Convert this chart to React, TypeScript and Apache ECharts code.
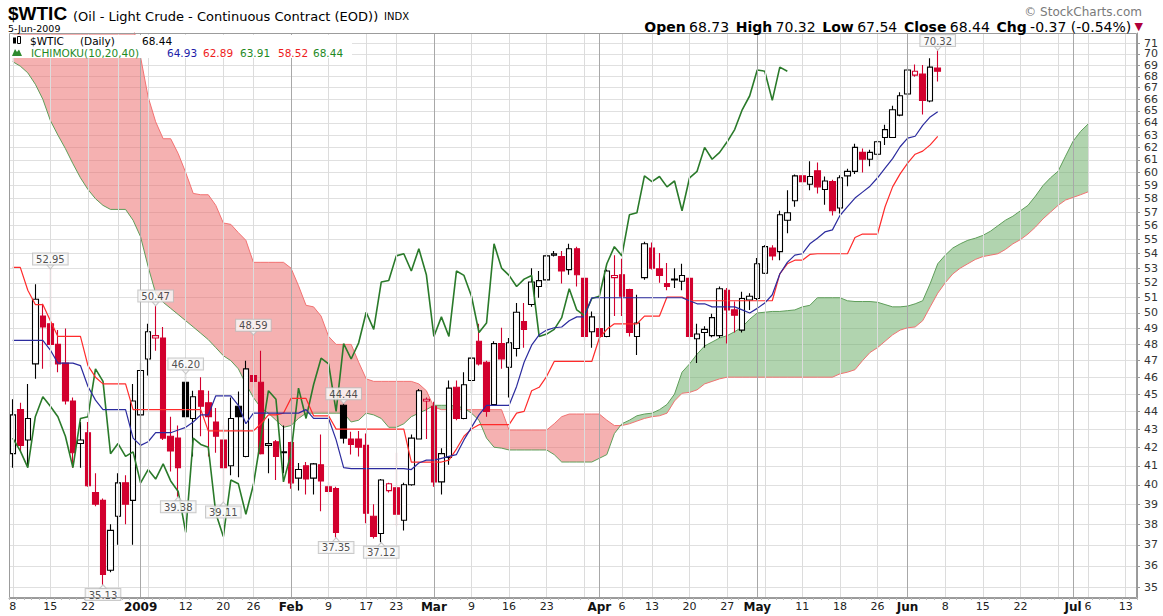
import React, { useEffect, useRef } from 'react';
import * as echarts from 'echarts';

// ---------- categories (trading days) ----------
const START_DATE = '2008-12-08';
const N_DAYS = 150;
const HOLIDAYS = ['2008-12-25', '2009-01-01', '2009-01-19', '2009-02-16', '2009-04-10', '2009-05-25', '2009-07-03'];

function buildDates(): string[] {
  const out: string[] = [];
  const d = new Date(START_DATE + 'T00:00:00Z');
  while (out.length < N_DAYS) {
    const wd = d.getUTCDay();
    const s = d.toISOString().slice(0, 10);
    if (wd !== 0 && wd !== 6 && HOLIDAYS.indexOf(s) < 0) out.push(s);
    d.setUTCDate(d.getUTCDate() + 1);
  }
  return out;
}
const DATES = buildDates();

// ---------- price data ----------
const OPEN = [
  41.65, 44.1, 42.4, 46.8, 49.8, 49.3, 48.0, 46.85, 44.6, 42.2,
  42.8, 39.6, 39.2, 35.8, 38.4, 40.1, 39.2, 43.8, 47.1, 48.4,
  48.4, 42.6, 42.5, 45.7, 43.6, 45.2, 44.5, 43.4, 42.4, 41.0,
  44.3, 41.5, 46.1, 45.7, 42.1, 42.3, 41.7, 42.25, 40.35, 41.0,
  40.35, 41.05, 39.9, 39.8, 44.35, 42.45, 42.45, 42.1, 38.4, 37.55,
  39.7, 39.85, 38.2, 40.0, 42.45, 44.6, 44.3, 40.15, 41.45, 45.4,
  43.6, 45.8, 48.2, 46.9, 44.4, 48.05, 46.6, 47.75, 49.45, 50.55,
  51.75, 52.2, 53.9, 53.8, 52.9, 54.35, 52.3, 48.8, 49.0, 48.5,
  52.35, 52.55, 51.55, 48.5, 52.35, 54.4, 52.95, 51.95, 52.2, 52.1,
  52.3, 48.35, 48.75, 48.55, 48.55, 51.5, 50.2, 48.9, 50.85, 50.95,
  52.65, 54.4, 54.15, 56.4, 57.85, 59.75, 59.1, 60.15, 58.7, 59.3,
  57.3, 59.75, 60.1, 61.6, 61.05, 61.45, 62.8, 62.8, 64.65, 66.45,
  68.1, 68.2, 65.85, 68.73
];
const HIGH = [
  44.7, 44.5, 45.6, 51.9, 50.6, 52.95, 48.9, 49.0, 44.8, 43.4,
  43.4, 40.6, 39.3, 38.0, 40.6, 40.5, 45.6, 46.85, 49.3, 50.47,
  49.1, 43.7, 43.2, 46.2, 45.2, 46.0, 45.2, 44.2, 43.2, 44.8,
  45.15, 47.0, 48.59, 47.6, 43.6, 42.4, 43.2, 42.3, 41.15, 41.2,
  41.15, 42.7, 40.15, 39.9, 44.44, 42.85, 42.9, 42.75, 39.0, 40.3,
  40.1, 41.7, 40.1, 42.7, 45.3, 44.8, 44.55, 41.95, 45.8, 45.8,
  46.3, 48.9, 49.3, 47.0, 48.2, 49.05, 48.4, 50.65, 50.65, 53.0,
  52.8, 54.1, 54.2, 54.2, 54.7, 54.5, 52.4, 50.1, 49.8, 52.9,
  53.9, 53.65, 51.6, 51.2, 54.85, 54.8, 54.05, 53.35, 53.0, 53.3,
  52.4, 49.3, 49.15, 49.95, 51.75, 51.65, 50.75, 51.4, 51.3, 53.7,
  54.6, 54.6, 57.1, 58.65, 59.85, 59.8, 60.9, 60.8, 59.7, 59.45,
  59.8, 60.3, 62.3, 61.9, 61.8, 62.6, 63.85, 65.45, 66.6, 68.7,
  69.05, 69.0, 69.6, 70.32
];
const LOW = [
  40.9, 41.8, 40.95, 45.9, 46.5, 46.6, 46.3, 44.4, 40.9, 40.9,
  39.9, 38.9, 35.13, 35.7, 37.0, 38.0, 37.0, 41.1, 46.1, 47.6,
  42.4, 40.7, 39.38, 43.2, 41.5, 42.6, 41.5, 41.7, 39.11, 40.5,
  40.4, 41.45, 45.4, 41.6, 40.6, 40.25, 40.6, 39.8, 39.7, 39.5,
  39.5, 38.65, 39.5, 37.35, 42.2, 41.6, 41.5, 38.05, 37.3, 37.12,
  39.6, 37.9, 37.7, 39.95, 42.45, 42.45, 39.9, 39.5, 41.05, 43.5,
  43.55, 45.05, 46.7, 43.7, 44.35, 46.5, 44.8, 47.25, 47.8, 50.4,
  51.0, 51.65, 53.8, 51.95, 52.55, 51.75, 48.25, 47.8, 47.3, 48.45,
  49.8, 49.8, 48.5, 47.35, 52.2, 52.9, 52.0, 51.5, 51.65, 51.5,
  48.25, 46.85, 47.8, 48.45, 48.4, 48.05, 48.75, 48.75, 50.2, 50.85,
  52.6, 53.55, 53.55, 55.45, 57.4, 57.85, 58.65, 58.4, 57.55, 56.75,
  56.9, 58.95, 59.9, 60.0, 60.5, 59.6, 62.2, 62.75, 64.55, 66.1,
  67.95, 64.7, 65.75, 67.54
];
const CLOSE = [
  43.8, 42.1, 43.6, 50.9, 49.1, 48.0, 46.8, 44.6, 41.7, 42.4,
  39.95, 39.0, 35.6, 37.7, 40.1, 39.0, 44.6, 46.4, 48.8, 48.55,
  42.5, 41.8, 40.9, 43.7, 44.85, 44.3, 43.7, 42.6, 40.9, 43.6,
  43.7, 46.5, 45.75, 41.65, 42.2, 41.5, 41.75, 40.1, 40.8, 40.3,
  41.1, 40.2, 39.65, 37.6, 42.5, 42.15, 42.0, 38.55, 37.4, 40.25,
  40.05, 38.5, 40.0, 42.5, 45.2, 44.7, 40.15, 41.65, 45.35, 43.6,
  45.55, 47.15, 46.8, 44.0, 48.05, 47.1, 48.1, 50.05, 48.95, 52.05,
  52.15, 53.85, 54.0, 52.8, 54.35, 52.55, 48.5, 49.75, 48.5, 52.8,
  52.5, 51.1, 48.75, 49.35, 54.7, 53.0, 52.5, 51.75, 52.25, 52.5,
  48.5, 48.65, 48.95, 49.7, 51.6, 50.2, 49.85, 50.95, 51.1, 53.3,
  54.5, 53.85, 56.8, 56.95, 59.75, 59.3, 59.7, 58.9, 59.35, 57.1,
  59.6, 60.1, 62.0, 61.05, 61.6, 62.45, 63.45, 65.1, 66.3, 68.55,
  68.45, 65.9, 68.81, 68.44
];

// Ichimoku lines
const TENKAN = [
  48.25, 48.25, 48.25, 48.25, 48.25, 47.65, 46.85, 46.85, 46.85, 46.7,
  45.45, 44.65, 44.1, 44.1, 44.1, 44.1, 42.5, 42.1, 42.3, 42.8,
  42.8, 42.8, 42.95, 43.1, 43.4, 43.8, 43.8, 44.9, 44.9, 44.9,
  44.35, 43.3, 43.9, 43.9, 43.9, 43.9, 43.9, 43.9, 43.9, 44.1,
  43.6, 43.6, 43.6, 42.4, 40.9, 40.85, 40.85, 40.85, 40.85, 40.85,
  40.85, 40.85, 40.85, 40.8, 41.15, 41.3, 41.3, 41.4, 41.5, 41.6,
  42.4, 43.1, 43.8, 44.35, 44.35, 44.35, 44.35, 45.45, 46.9, 47.95,
  48.6, 48.9, 49.05, 49.1, 49.5, 49.75, 49.75, 51.0, 51.0, 51.0,
  51.0, 51.0, 51.0, 51.0, 51.0, 51.0, 51.0, 51.0, 51.0, 51.0,
  50.8, 50.6, 50.6, 50.4, 50.4, 50.4, 50.4, 50.2, 50.0, 50.3,
  50.65, 51.2, 52.6, 53.4, 53.9, 54.0, 54.7, 55.1, 55.55, 55.7,
  56.75, 57.4, 58.05, 58.5, 58.95, 59.6, 60.35, 61.1, 62.05, 62.75,
  62.9, 63.8, 64.5, 64.93
];
const KIJUN = [
  53.05, 53.05, 51.5, 50.55, 50.55, 49.5, 48.5, 48.5, 48.5, 48.5,
  46.7, 46.0, 45.6, 45.6, 45.6, 45.6, 44.1, 44.1, 44.1, 44.1,
  44.1, 44.1, 44.1, 44.1, 44.1, 44.1, 42.9, 42.9, 42.9, 42.9,
  42.9, 42.9, 42.9, 43.3, 43.8, 43.8, 43.9, 44.75, 44.75, 44.75,
  43.75, 43.75, 43.75, 43.0, 43.0, 43.0, 43.0, 43.0, 43.0, 43.0,
  43.0, 43.0, 43.0, 41.2, 41.2, 41.2, 41.2, 41.2, 41.3, 41.9,
  42.6, 43.0, 43.25, 43.25, 43.25, 43.25, 43.25, 43.9, 44.0, 45.2,
  45.4, 46.05, 46.95, 46.95, 46.95, 46.95, 46.95, 46.95, 48.4, 48.95,
  49.3, 49.3, 49.3, 49.3, 49.8, 49.8, 49.8, 51.05, 51.05, 51.05,
  50.8, 50.8, 50.8, 50.8, 50.8, 50.8, 50.8, 50.8, 50.8, 50.8,
  50.8, 50.8, 52.6, 53.3, 53.55, 53.55, 53.95, 54.0, 54.0, 54.0,
  54.0, 54.0, 55.15, 55.4, 55.4, 55.4, 57.4, 58.9, 59.9, 60.75,
  61.45, 61.7, 62.2, 62.89
];
const SPAN_A = [
  69.3, 68.9, 68.3, 67.3, 66.0, 64.2, 63.0, 61.9, 60.7, 59.6,
  58.7, 58.0, 57.5, 57.2, 57.2, 57.2, 56.4, 55.2, 53.1, 51.3,
  50.7, 50.3, 49.9, 49.5, 49.1, 48.7, 48.3, 47.8, 47.3, 47.0,
  46.5, 45.6, 44.8, 44.2, 43.9, 43.5, 43.1, 43.2, 43.6, 43.9,
  43.9, 43.9, 43.9, 43.9, 43.9, 43.4, 43.5, 43.9, 43.8, 43.6,
  43.1, 43.1, 43.3, 43.7, 43.9, 44.1, 44.35, 44.35, 44.35, 44.3,
  44.2, 43.9, 43.5, 42.5, 42.0, 41.95, 41.85, 41.85, 41.85, 41.85,
  41.85, 41.85, 41.6, 41.2, 41.2, 41.2, 41.2, 41.2, 41.4, 41.6,
  42.75, 43.3, 43.5, 43.75, 43.85, 43.9, 44.1, 44.4, 45.0, 46.3,
  46.8, 47.4, 47.9, 48.15, 48.4, 48.55, 48.8, 49.1, 49.6, 50.0,
  50.05, 50.1, 50.1, 50.15, 50.2, 50.4, 50.5, 51.0, 51.0, 51.0,
  51.0, 50.8, 50.75, 50.75, 50.75, 50.7, 50.55, 50.4, 50.4, 50.45,
  50.6, 50.8, 51.95, 53.3, 53.9, 54.4, 54.7, 54.95, 55.1, 55.3,
  55.6, 56.0, 56.4, 56.7, 57.1, 57.5, 58.2, 59.0, 59.6, 60.1,
  61.3, 62.5, 63.3, 63.91
];
const SPAN_B = [
  72.5, 72.5, 72.5, 72.5, 72.5, 72.5, 72.5, 72.5, 72.5, 72.5,
  72.5, 72.5, 72.5, 72.5, 72.5, 72.5, 72.5, 69.7, 66.2, 64.1,
  62.7, 62.7, 61.5, 60.0, 58.4, 58.3, 58.3, 57.5, 56.2, 56.1,
  55.5, 54.95, 53.4, 53.4, 53.4, 53.4, 53.4, 53.0, 51.8, 50.5,
  50.4, 49.8, 48.5, 48.0, 48.0, 48.0, 46.9, 45.9, 45.75, 45.75,
  45.75, 45.75, 45.75, 45.75, 45.6, 45.2, 44.25, 44.1, 44.1, 44.1,
  44.1, 44.1, 44.1, 44.1, 44.1, 44.1, 42.95, 42.95, 42.95, 42.95,
  42.95, 42.95, 43.3, 43.7, 43.85, 43.85, 43.85, 43.85, 43.85, 43.5,
  43.2, 43.2, 43.3, 43.45, 43.6, 43.7, 43.75, 43.9, 44.6, 45.05,
  45.1, 45.25, 45.6, 45.75, 45.9, 46.0, 46.0, 46.0, 46.0, 46.0,
  46.0, 46.0, 46.0, 46.0, 46.0, 46.0, 46.0, 46.0, 46.0, 46.0,
  46.2, 46.3, 46.45, 47.0, 47.5, 47.8, 48.2, 48.6, 48.9, 49.05,
  49.1, 49.5, 50.4, 51.3, 52.0, 52.6, 53.0, 53.3, 53.6, 53.8,
  53.9, 54.0, 54.3, 54.7, 55.0, 55.4, 55.9, 56.5, 57.0, 57.5,
  57.9, 58.1, 58.3, 58.52
];
const CHIKOU_SHIFT = 20;

// axis ticks / labels
const Y_TICKS = [35, 36, 37, 38, 39, 40, 41, 42, 43, 44, 45, 46, 47, 48, 49, 50, 51, 52, 53,
  54, 55, 56, 57, 58, 59, 60, 61, 62, 63, 64, 65, 66, 67, 68, 69, 70, 71];
const Y_MIN = 34.53;
const Y_MAX = 71.93;
const X_LABELS: Record<string, string> = {
  '2008-12-08': '8', '2008-12-15': '15', '2008-12-22': '22', '2009-01-02': '2009',
  '2009-01-12': '12', '2009-01-20': '20', '2009-01-26': '26', '2009-02-02': 'Feb',
  '2009-02-09': '9', '2009-02-17': '17', '2009-02-23': '23', '2009-03-02': 'Mar',
  '2009-03-09': '9', '2009-03-16': '16', '2009-03-23': '23', '2009-04-01': 'Apr',
  '2009-04-06': '6', '2009-04-13': '13', '2009-04-20': '20', '2009-04-27': '27',
  '2009-05-01': 'May', '2009-05-11': '11', '2009-05-18': '18', '2009-05-26': '26',
  '2009-06-01': 'Jun', '2009-06-08': '8', '2009-06-15': '15', '2009-06-22': '22',
  '2009-07-01': 'Jul', '2009-07-06': '6', '2009-07-13': '13'
};
const MONTH_LABELS = ['2009', 'Feb', 'Mar', 'Apr', 'May', 'Jun', 'Jul'];
const WEEK_LINES = ['2008-12-08', '2008-12-15', '2008-12-22', '2008-12-29', '2009-01-05', '2009-01-12',
  '2009-01-20', '2009-01-26', '2009-02-09', '2009-02-17', '2009-02-23', '2009-03-09', '2009-03-16',
  '2009-03-23', '2009-03-30', '2009-04-06', '2009-04-13', '2009-04-20', '2009-04-27', '2009-05-04',
  '2009-05-11', '2009-05-18', '2009-05-26', '2009-06-08', '2009-06-15', '2009-06-22', '2009-06-29',
  '2009-07-06', '2009-07-13'];
const MONTH_LINES = ['2009-01-02', '2009-02-02', '2009-03-02', '2009-04-01', '2009-05-01', '2009-06-01', '2009-07-01'];

// annotated extremes: [dayIndex, value]
const ANNOT_HIGHS: [number, number][] = [[5, 52.95], [19, 50.47], [23, 46.20], [32, 48.59], [44, 44.44], [123, 70.32]];
const ANNOT_LOWS: [number, number][] = [[12, 35.13], [22, 39.38], [28, 39.11], [43, 37.35], [49, 37.12]];

const FONT = '"DejaVu Sans", Verdana, sans-serif';
const RED = '#d2002e';
const BLACK = '#000000';
const CLOUD_RED = 'rgba(236,100,100,0.5)';
const CLOUD_GREEN = 'rgba(100,170,95,0.5)';

export default function App() {
  const ref = useRef<HTMLDivElement>(null);

  useEffect(() => {
    document.body.style.margin = '0';
    const chart = echarts.init(ref.current!, null, { renderer: 'svg' });
    const L = Math.log;
    const lnA = SPAN_A.map(L);
    const lnB = SPAN_B.map(L);

    // candles coloured black when close >= previous close, red otherwise
    const isRed = OPEN.map((o, i) => i > 0 && CLOSE[i] < CLOSE[i - 1]);
    const candle = (o: number, i: number) => [L(o), L(CLOSE[i]), L(LOW[i]), L(HIGH[i])];
    const EMPTY = ['-', '-', '-', '-'];
    const blackData = OPEN.map((o, i) => (isRed[i] ? EMPTY : candle(o, i)));
    const redData = OPEN.map((o, i) => (isRed[i] ? candle(o, i) : EMPTY));
    const candleSeries = (name: string, data: any[], col: string) => ({
      type: 'candlestick', name, data, z: 3, barWidth: 6, silent: true,
      itemStyle: { color: '#ffffff', color0: col, borderColor: col, borderColor0: col, borderColorDoji: col, borderWidth: 1.1 }
    });

    const gridLines = [
      ...WEEK_LINES.map((d) => ({ xAxis: d, lineStyle: { color: '#dcdcdc', width: 1, type: 'solid' } })),
      ...MONTH_LINES.map((d) => ({ xAxis: d, lineStyle: { color: '#a8a8a8', width: 1, type: 'solid' } }))
    ];

    const annot = [
      ...ANNOT_HIGHS.map(([i, v]) => ({
        value: [i, L(v)], symbolRotate: 180, symbolOffset: [0, -2],
        label: { position: 'top', formatter: v.toFixed(2) }
      })),
      ...ANNOT_LOWS.map(([i, v]) => ({
        value: [i, L(v)], symbolRotate: 0, symbolOffset: [0, 2],
        label: { position: 'bottom', formatter: v.toFixed(2) }
      }))
    ];

    const option: any = {
      animation: false,
      backgroundColor: '#ffffff',
      grid: { left: 9, right: 26, top: 33, bottom: 18, containLabel: false },
      xAxis: {
        type: 'category',
        data: DATES,
        boundaryGap: true,
        axisLine: { show: true, lineStyle: { color: '#999' } },
        axisTick: { show: true, interval: 0, length: 2, lineStyle: { color: '#bbb' } },
        splitLine: { show: false },
        axisLabel: {
          interval: (idx: number, val: string) => X_LABELS[val] !== undefined,
          formatter: (val: string) => {
            const t = X_LABELS[val];
            if (t === undefined) return '';
            return MONTH_LABELS.indexOf(t) >= 0 ? '{b|' + t + '}' : t;
          },
          fontFamily: FONT, fontSize: 11, color: '#222', margin: 3,
          rich: { b: { fontFamily: FONT, fontWeight: 'bold', fontSize: 12, color: '#111' } }
        }
      },
      yAxis: {
        type: 'value',
        position: 'right',
        min: L(Y_MIN),
        max: L(Y_MAX),
        axisLine: { show: true, lineStyle: { color: '#999' } },
        axisTick: { show: true, length: 3, customValues: Y_TICKS.map(L), lineStyle: { color: '#999' } },
        splitLine: { show: true, lineStyle: { color: '#e0e0e0', width: 1 } },
        axisLabel: {
          customValues: Y_TICKS.map(L),
          formatter: (v: number) => String(Math.round(Math.exp(v))),
          fontFamily: FONT, fontSize: 11, color: '#333', margin: 7
        }
      },
      series: [
        {
          type: 'line', name: 'grid', data: DATES.map(() => null), silent: true, z: 0,
          showSymbol: false, lineStyle: { opacity: 0 },
          markLine: { silent: true, symbol: ['none', 'none'], label: { show: false }, animation: false, data: gridLines }
        },
        {
          type: 'custom', name: 'cloud', clip: true, z: 1, silent: true,
          data: [[0, lnA[0], lnB[0]]],
          encode: { x: 0, y: [1, 2] },
          renderItem: (params: any, api: any) => {
            const polys: any[] = [];
            let cur: any = null;
            for (let i = 0; i < lnA.length; i++) {
              const d = lnA[i] - lnB[i];
              const s = d >= 0 ? 1 : -1;
              const PA = api.coord([i, lnA[i]]);
              const PB = api.coord([i, lnB[i]]);
              if (!cur) { cur = { s, A: [PA], B: [PB] }; continue; }
              if (s === cur.s) { cur.A.push(PA); cur.B.push(PB); }
              else {
                const dp = lnA[i - 1] - lnB[i - 1];
                const t = dp / (dp - d);
                const pa = cur.A[cur.A.length - 1];
                const C = [pa[0] + t * (PA[0] - pa[0]), pa[1] + t * (PA[1] - pa[1])];
                cur.A.push(C); cur.B.push(C);
                polys.push(cur);
                cur = { s, A: [C, PA], B: [C, PB] };
              }
            }
            if (cur) polys.push(cur);
            return {
              type: 'group',
              children: polys.map((p) => ({
                type: 'polygon',
                shape: { points: p.A.concat(p.B.slice().reverse()) },
                style: { fill: p.s > 0 ? CLOUD_GREEN : CLOUD_RED, stroke: 'none' }
              }))
            };
          }
        },
        {
          type: 'line', name: 'spanB', data: lnB, z: 2, showSymbol: false, symbol: 'none', silent: true,
          lineStyle: { color: '#f27272', width: 1 }
        },
        {
          type: 'line', name: 'spanA', data: lnA, z: 2, showSymbol: false, symbol: 'none', silent: true,
          lineStyle: { color: '#5f9e5a', width: 1 }
        },
        candleSeries('WTIC up', blackData, BLACK),
        candleSeries('WTIC down', redData, RED),
        {
          type: 'line', name: 'chikou', data: CLOSE.slice(CHIKOU_SHIFT).map(L), z: 4, showSymbol: false,
          symbol: 'none', silent: true, lineStyle: { color: '#2a7a2a', width: 1.6 }
        },
        {
          type: 'line', name: 'kijun', data: KIJUN.map(L), z: 4, showSymbol: false, symbol: 'none', silent: true,
          lineStyle: { color: '#ff2b2b', width: 1.2 }
        },
        {
          type: 'line', name: 'tenkan', data: TENKAN.map(L), z: 4, showSymbol: false, symbol: 'none', silent: true,
          lineStyle: { color: '#2b2b9e', width: 1.2 }
        },
        {
          type: 'scatter', name: 'annot', data: annot, z: 6, silent: true,
          symbol: 'triangle', symbolSize: [7, 4],
          itemStyle: { color: '#fafafa', borderColor: '#bdbdbd', borderWidth: 1 },
          label: {
            show: true, distance: 0, fontFamily: FONT, fontSize: 10, color: '#222',
            backgroundColor: '#fafafa', borderColor: '#bdbdbd', borderWidth: 1, padding: [1, 3, 0, 3]
          }
        }
      ],
      graphic: [
        { type: 'rect', silent: true, z: 50, shape: { x: 9.5, y: 33.5, width: 1127, height: 564 }, style: { fill: 'none', stroke: '#9c9c9c', lineWidth: 1 } },
        { type: 'rect', silent: true, z: 100, shape: { x: 10, y: 35, width: 342, height: 23 }, style: { fill: '#ffffff', stroke: 'none' } },
        { type: 'rect', silent: true, z: 101, shape: { x: 13, y: 37.5, width: 3, height: 6 }, style: { fill: '#000' } },
        { type: 'rect', silent: true, z: 101, shape: { x: 17.5, y: 36.5, width: 3, height: 7 }, style: { fill: '#fff', stroke: '#000', lineWidth: 1 } },
        { type: 'polygon', silent: true, z: 101, shape: { points: [[12, 56], [15, 49], [17, 52], [19, 49.5], [22, 56]] }, style: { fill: '#2f8a2f' } },
        { type: 'text', silent: true, z: 101, x: 30, y: 41, style: { text: '$WTIC', font: '10.5px ' + FONT, fill: '#000', verticalAlign: 'middle' } },
        { type: 'text', silent: true, z: 101, x: 80, y: 41, style: { text: '(Daily)', font: '10.5px ' + FONT, fill: '#000', verticalAlign: 'middle' } },
        { type: 'text', silent: true, z: 101, x: 142, y: 41, style: { text: '68.44', font: '10.5px ' + FONT, fill: '#000', verticalAlign: 'middle' } },
        { type: 'text', silent: true, z: 101, x: 31, y: 52.5, style: { text: 'ICHIMOKU(10,20,40)', font: '10.5px ' + FONT, fill: '#1f8a1f', verticalAlign: 'middle' } },
        { type: 'text', silent: true, z: 101, x: 167, y: 52.5, style: { text: '64.93', font: '10.5px ' + FONT, fill: '#1c1ca8', verticalAlign: 'middle' } },
        { type: 'text', silent: true, z: 101, x: 203, y: 52.5, style: { text: '62.89', font: '10.5px ' + FONT, fill: '#ee1c1c', verticalAlign: 'middle' } },
        { type: 'text', silent: true, z: 101, x: 240, y: 52.5, style: { text: '63.91', font: '10.5px ' + FONT, fill: '#1f8a1f', verticalAlign: 'middle' } },
        { type: 'text', silent: true, z: 101, x: 278, y: 52.5, style: { text: '58.52', font: '10.5px ' + FONT, fill: '#ee1c1c', verticalAlign: 'middle' } },
        { type: 'text', silent: true, z: 101, x: 313, y: 52.5, style: { text: '68.44', font: '10.5px ' + FONT, fill: '#1f8a1f', verticalAlign: 'middle' } },
        { type: 'text', silent: true, z: 101, x: 8, y: 13.5, style: { text: '$WTIC', font: 'bold 19px "Liberation Sans", Arial, sans-serif', fill: '#000', verticalAlign: 'middle' } },
        { type: 'text', silent: true, z: 101, x: 73, y: 16, style: { text: '(Oil - Light Crude - Continuous Contract (EOD))', font: '13px ' + FONT, fill: '#000', verticalAlign: 'middle' } },
        { type: 'text', silent: true, z: 101, x: 384, y: 16.5, style: { text: 'INDX', font: '10px ' + FONT, fill: '#000', verticalAlign: 'middle' } },
        { type: 'text', silent: true, z: 101, x: 8, y: 28.5, style: { text: '5-Jun-2009', font: '9.5px ' + FONT, fill: '#000', verticalAlign: 'middle' } },
        { type: 'text', silent: true, z: 101, x: 1142, y: 12, style: { text: '\u00a9 StockCharts.com', font: '12px ' + FONT, fill: '#7a7a7a', align: 'right', verticalAlign: 'middle' } },
        {
          type: 'text', silent: true, z: 101, x: 1143, y: 26.5,
          style: {
            text: '{b|Open} {n|68.73}  {b|High} {n|70.32}  {b|Low} {n|67.54}  {b|Close} {n|68.44}  {b|Chg} {n|-0.37 (-0.54%)} {r|\u25BC}',
            align: 'right', verticalAlign: 'middle',
            rich: {
              b: { font: 'bold 14px ' + FONT, fill: '#000' },
              n: { font: '14px ' + FONT, fill: '#000' },
              r: { font: '11px ' + FONT, fill: '#b0003a' }
            }
          }
        }
      ]
    };

    chart.setOption(option);
    return () => chart.dispose();
  }, []);

  return <div ref={ref} style={{ position: 'fixed', left: 0, top: 0, width: 1163, height: 616, background: '#fff' }} />;
}
